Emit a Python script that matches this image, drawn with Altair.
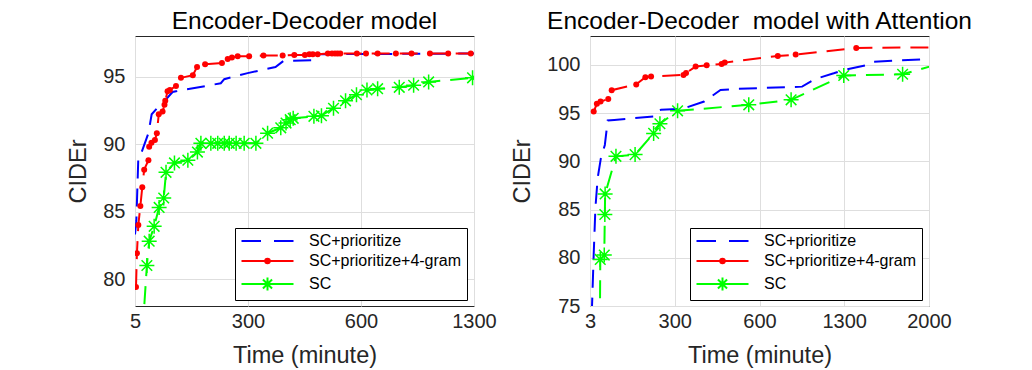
import altair as alt
import pandas as pd

SERIES = ["SC+prioritize", "SC+prioritize+4-gram", "SC"]
COLORS = ["#0000ff", "#ff0000", "#00ff00"]

# ---------------- left panel: Encoder-Decoder model ----------------
L_BLUE_T = [5, 8.5, 13.7, 21, 40, 48.5, 64, 81, 103, 112, 229, 238, 299, 373, 394, 475, 488, 1300]
L_BLUE_V = [83.3, 84.3, 89.0, 89.3, 90.8, 92.2, 92.7, 93.15, 93.85, 93.9, 94.5, 94.8, 95.25, 95.7, 96.15, 96.2, 96.65, 96.7]

L_RED_T = [7.6, 10, 13.7, 19, 24, 29, 40, 42, 48, 57, 62, 67, 77, 82, 84, 90, 96, 112, 125, 156,
           167, 188, 232, 247, 258, 273, 303, 341, 392, 423, 451, 463, 472, 485, 512, 523, 531, 538,
           545, 589, 631, 703, 816, 913, 1027, 1140, 1280]
L_RED_V = [79.4, 81.9, 84.0, 85.4, 86.8, 88.1, 88.8, 89.8, 90.1, 90.3, 90.8, 92.2, 92.4, 92.9, 93.2,
           93.9, 94.0, 94.3, 94.9, 95.1, 95.7, 95.9, 96.0, 96.3, 96.4, 96.5, 96.5, 96.55, 96.55, 96.6,
           96.6, 96.65, 96.65, 96.65, 96.7, 96.7, 96.7, 96.7, 96.7, 96.7, 96.7, 96.7, 96.7, 96.7, 96.7,
           96.7, 96.7]

L_GREEN_T = [20, 36, 42, 55, 68, 80, 86, 108, 143, 168, 177, 203, 221, 238, 251, 269, 290, 321, 352,
             387, 401, 412, 420, 475, 495, 527, 559, 588, 637, 703, 837, 926, 1019, 1291]
L_GREEN_V = [74, 81.0, 82.8, 83.9, 85.3, 86.0, 87.9, 88.6, 88.8, 89.4, 90.05, 90.05, 90.05, 90.05,
             90.05, 90.05, 90.05, 90.05, 90.8, 91.2, 91.55, 91.8, 91.9, 92.05, 92.1, 92.65, 93.2,
             93.65, 94.0, 94.1, 94.2, 94.35, 94.6, 94.9]

# ---------------- right panel: with Attention ----------------
R_BLUE_T = [9, 16, 22, 30, 41, 55, 62, 65, 88, 228, 240, 252, 327, 404, 462, 509, 952, 1062, 1213,
            1296, 1490, 1545, 2000]
R_BLUE_V = [74, 80.4, 85.2, 88.3, 90.3, 91.7, 93.45, 94.24, 94.3, 94.65, 95.24, 95.35, 95.45, 96.2,
            97.4, 97.5, 97.75, 98.55, 99.13, 99.48, 100.0, 100.34, 100.62]

R_RED_T = [16, 27, 40, 67, 79, 165, 197, 217, 331, 340, 374, 413, 466, 477, 751, 899, 1399, 2100]
R_RED_V = [95.17, 95.97, 96.2, 96.47, 97.38, 97.98, 98.72, 98.8, 98.96, 99.17, 99.83, 99.96, 100.1,
           100.24, 100.93, 101.07, 101.76, 101.83]

R_GREEN_T = [37, 39, 53, 55, 56, 94, 161, 226, 248, 310, 562, 861, 1296, 1782, 2080]
R_GREEN_V = [70, 79.83, 80.28, 84.49, 86.62, 90.52, 90.7, 92.9, 93.9, 95.24, 95.86, 96.38, 98.9,
             99.03, 100.1]

L_XTICKS = [5, 300, 600, 1300]
R_XTICKS = [3, 300, 600, 1300, 2000]
L_YTICKS = [80, 85, 90, 95]
R_YTICKS = [75, 80, 85, 90, 95, 100]

L_TITLE = "Encoder-Decoder model"
R_TITLE = "Encoder-Decoder\u00a0 model with Attention"

FONT = "Liberation Sans"
PW, PH = 339, 270

STAR = "M-1,0L1,0M0,-1L0,1M-0.7071,-0.7071L0.7071,0.7071M-0.7071,0.7071L0.7071,-0.7071"
LEG_PATHS = [
    "M-1,0H2M4,0H7",
    "M-1,0H7M2.65,0A0.35,0.35 0 1,0 3.35,0A0.35,0.35 0 1,0 2.65,0ZM2.88,0A0.12,0.12 0 1,0 3.12,0A0.12,0.12 0 1,0 2.88,0Z",
    "M-1,0H7M2,0H4M3,-1V1M2.3,-0.7L3.7,0.7M2.3,0.7L3.7,-0.7",
]


def frame(bt, bv, rt, rv, gt, gv):
    rows = []
    for name, ts, vs in zip(SERIES, [bt, rt, gt], [bv, rv, gv]):
        for t, v in zip(ts, vs):
            rows.append({"series": name, "time": t, "cider": v})
    return pd.DataFrame(rows)


def panel(df, title, xticks, ydom, yticks):
    n = len(xticks) - 1
    xrange = [PW * i / n for i in range(n + 1)]
    x = alt.X("time:Q",
              scale=alt.Scale(domain=xticks, range=xrange),
              axis=alt.Axis(values=xticks, title="Time (minute)", labelFlush=False, format="d",
                            labelOverlap=False, tickSize=0, domain=False, labelPadding=5,
                            titlePadding=12))
    y = alt.Y("cider:Q",
              scale=alt.Scale(domain=ydom, nice=False, zero=False),
              axis=alt.Axis(values=yticks, title="CIDEr", tickSize=0, domain=False,
                            labelPadding=10, titlePadding=12))
    cnone = alt.Color("series:N", scale=alt.Scale(domain=SERIES, range=COLORS), legend=None)
    base = alt.Chart(df)
    leg = alt.Legend(title=None, orient="none", legendX=100, legendY=192,
                     labelFont=FONT, labelFontSize=16, labelColor="black",
                     symbolSize=169, symbolStrokeWidth=2, symbolOpacity=1,
                     labelOffset=53, padding=5, rowPadding=4,
                     strokeColor="black", fillColor="white")
    legend_layer = base.mark_point(filled=False, opacity=0).encode(
        x=x, y=y,
        color=alt.Color("series:N", scale=alt.Scale(domain=SERIES, range=COLORS), legend=leg),
        shape=alt.Shape("series:N", scale=alt.Scale(domain=SERIES, range=LEG_PATHS), legend=leg))
    lines = base.mark_line(clip=True, strokeWidth=2, strokeDash=[18, 10]).encode(
        x=x, y=y, color=cnone, order="time:Q")
    dots = base.transform_filter(alt.datum.series == SERIES[1]).mark_point(
        clip=True, filled=True, shape="circle", size=36, opacity=1).encode(x=x, y=y, color=cnone)
    stars = base.transform_filter(alt.datum.series == SERIES[2]).mark_point(
        clip=True, filled=False, shape=STAR, size=225, strokeWidth=1.5, opacity=1).encode(
        x=x, y=y, color=cnone)
    return alt.layer(legend_layer, lines, dots, stars).properties(
        width=PW, height=PH,
        title=alt.TitleParams(title, font=FONT, fontSize=24.5, fontWeight="normal",
                              color="black", offset=2))


left = panel(frame(L_BLUE_T, L_BLUE_V, L_RED_T, L_RED_V, L_GREEN_T, L_GREEN_V),
             L_TITLE, L_XTICKS, [78, 98], L_YTICKS)
right = panel(frame(R_BLUE_T, R_BLUE_V, R_RED_T, R_RED_V, R_GREEN_T, R_GREEN_V),
              R_TITLE, R_XTICKS, [75, 103], R_YTICKS)

chart = alt.hconcat(left, right, spacing=116, bounds="flush").resolve_scale(
    color="independent", shape="independent", x="independent", y="independent"
).resolve_legend(color="independent", shape="independent").configure_view(
    stroke="#262626", strokeWidth=1
).configure_axis(
    labelFont=FONT, labelFontSize=20, labelColor="#262626",
    titleFont=FONT, titleFontSize=23.5, titleColor="#262626", titleFontWeight="normal",
    gridColor="#dedede", gridWidth=1
).properties(padding={"left": 58, "top": 0, "right": 5, "bottom": 5})

chart.save("out.html", embed_options={"renderer": "svg", "actions": False})
